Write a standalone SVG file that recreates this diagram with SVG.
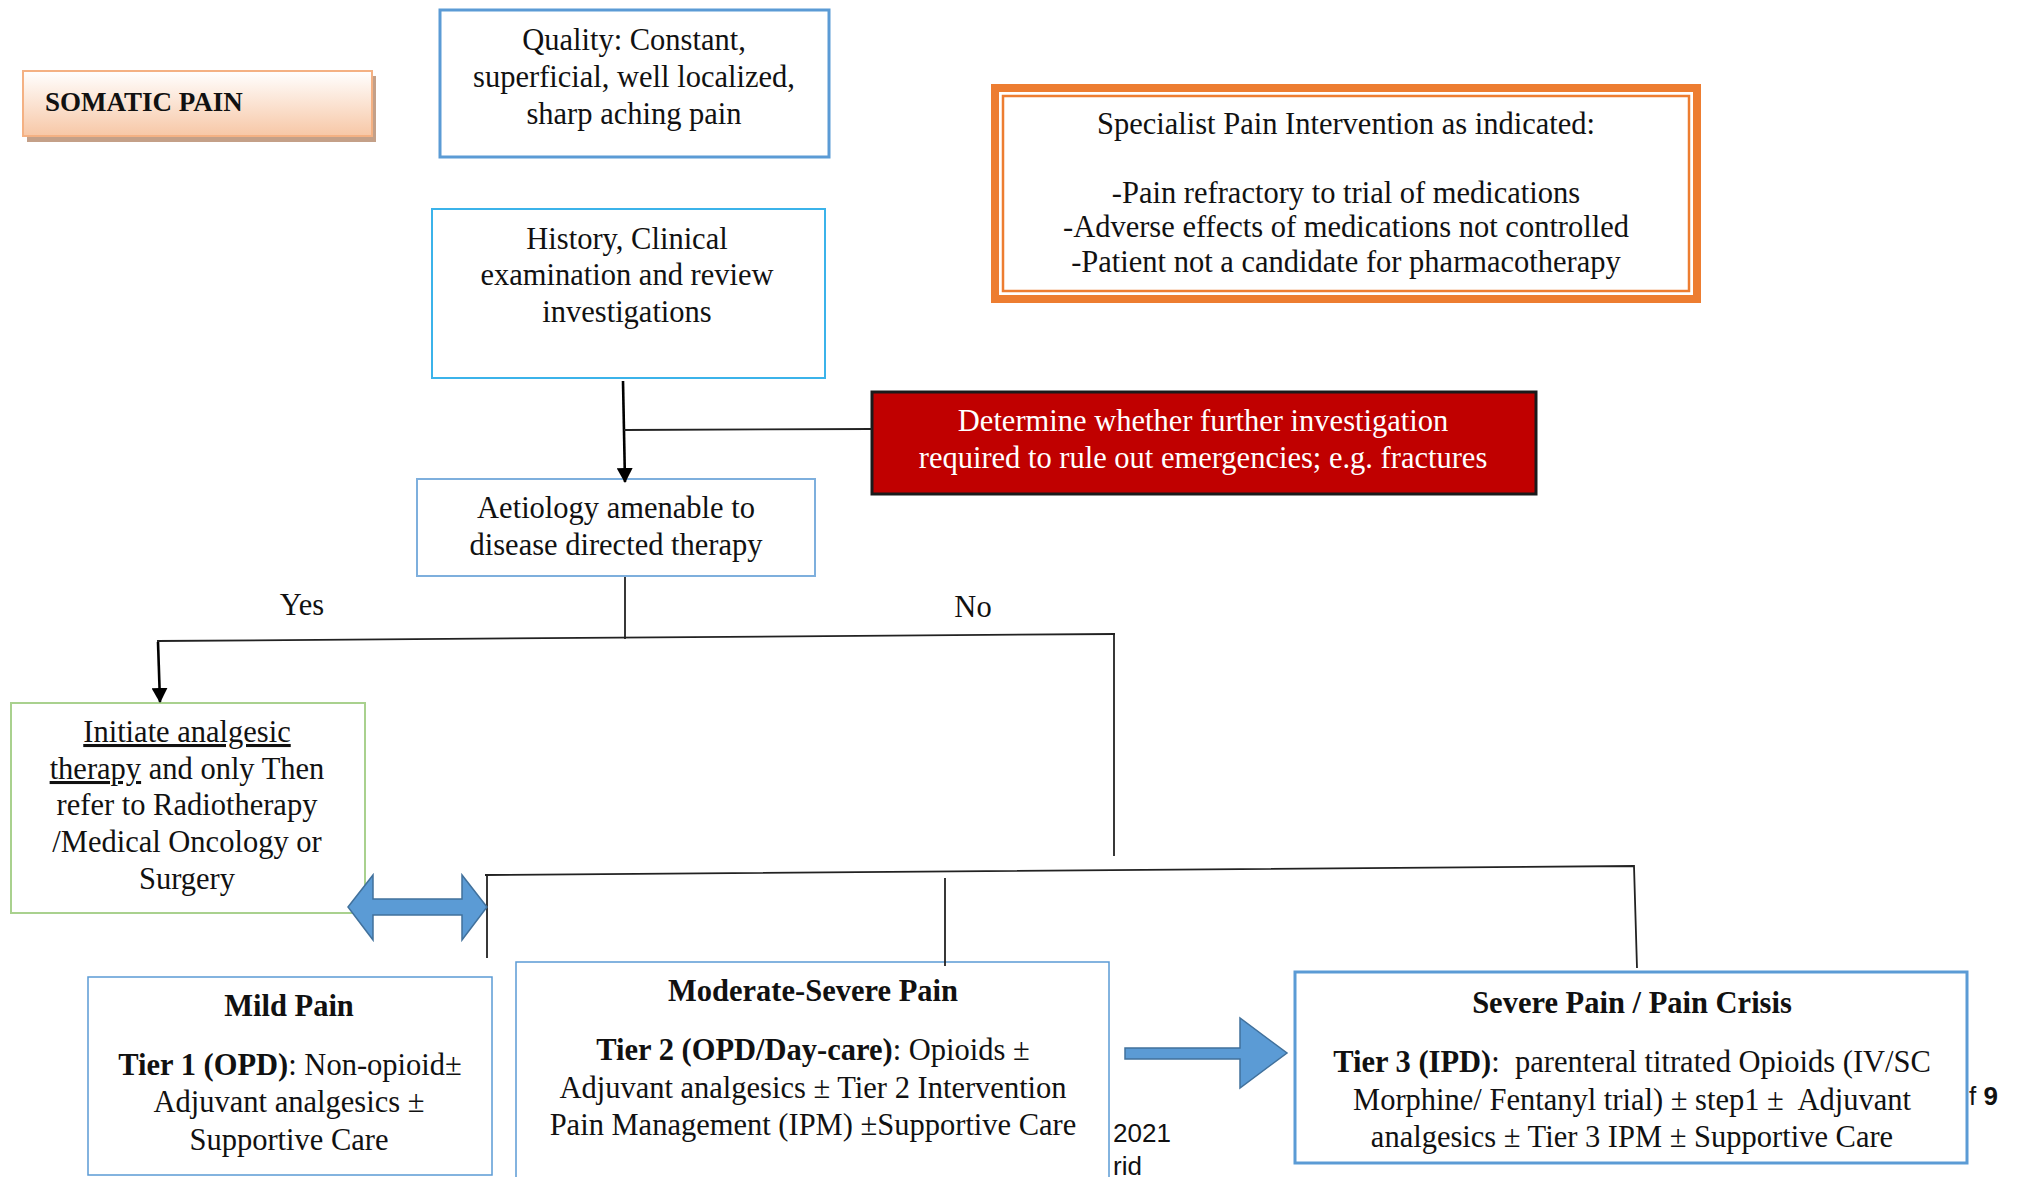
<svg xmlns="http://www.w3.org/2000/svg" width="2024" height="1177" viewBox="0 0 2024 1177">
<defs>
<linearGradient id="peach" x1="0" y1="0" x2="0" y2="1">
<stop offset="0" stop-color="#FFFFFF"/>
<stop offset="1" stop-color="#F7C7A6"/>
</linearGradient>
<marker id="ah" markerWidth="15" markerHeight="16" refX="14" refY="8" orient="auto" markerUnits="userSpaceOnUse" viewBox="0 0 15 16" preserveAspectRatio="none">
<path d="M0,0 L15,8 L0,16 z" fill="#000"/>
</marker>
<style>
text{font-family:"Liberation Serif","Times New Roman",serif;font-size:30.5px;fill:#111;}
.c{text-anchor:middle;}
.b{font-weight:bold;}
.w{fill:#fff;}
.u{text-decoration:underline;}
.sans{font-family:"Liberation Sans",Arial,sans-serif;font-size:26px;}
.ln{fill:none;stroke:#222;stroke-width:1.8;}
.ar{fill:none;stroke:#000;stroke-width:2.6;}
.bx{fill:#fff;stroke:#5B9BD5;}
.blk{fill:#5B9BD5;stroke:#41719C;stroke-width:1.5;}
</style>
</defs>
<rect width="2024" height="1177" fill="#fff"/>

<g id="somatic">
<rect x="27" y="76" width="349" height="66" fill="#C4A088"/>
<rect x="23" y="71" width="349" height="65" fill="url(#peach)" stroke="#F4B183" stroke-width="2"/>
<text x="45" y="111" class="b" style="font-size:27px">SOMATIC PAIN</text>
</g>

<g id="quality">
<rect class="bx" x="440" y="10" width="389" height="147" stroke-width="3"/>
<text class="c" x="634" y="50">Quality: Constant,</text>
<text class="c" x="634" y="87">superficial, well localized,</text>
<text class="c" x="634" y="124">sharp aching pain</text>
</g>

<g id="history">
<rect x="432" y="209" width="393" height="169" fill="#fff" stroke="#3BB3EA" stroke-width="2"/>
<text class="c" x="627" y="249">History, Clinical</text>
<text class="c" x="627" y="285">examination and review</text>
<text class="c" x="627" y="322">investigations</text>
</g>

<g id="specialist">
<rect x="995" y="88" width="702" height="211" fill="#fff" stroke="#ED7D31" stroke-width="8"/>
<rect x="1003" y="96" width="686" height="195" fill="none" stroke="#ED7D31" stroke-width="2.5"/>
<text class="c" x="1346" y="134">Specialist Pain Intervention as indicated:</text>
<text class="c" x="1346" y="203">-Pain refractory to trial of medications</text>
<text class="c" x="1346" y="237">-Adverse effects of medications not controlled</text>
<text class="c" x="1346" y="272">-Patient not a candidate for pharmacotherapy</text>
</g>

<g id="emergency">
<rect x="872" y="392" width="664" height="102" fill="#C00000" stroke="#1a1a1a" stroke-width="3"/>
<text class="c w" x="1203" y="431">Determine whether further investigation</text>
<text class="c w" x="1203" y="468">required to rule out emergencies; e.g. fractures</text>
</g>

<g id="aetiology">
<rect x="417" y="479" width="398" height="97" fill="#fff" stroke="#7EAFDD" stroke-width="2"/>
<text class="c" x="616" y="518">Aetiology amenable to</text>
<text class="c" x="616" y="555">disease directed therapy</text>
</g>

<g id="labels">
<text class="c" x="302" y="615">Yes</text>
<text class="c" x="973" y="617">No</text>
</g>

<g id="initiate">
<rect x="11" y="703" width="354" height="210" fill="#fff" stroke="#A9D18E" stroke-width="2"/>
<text class="c" x="187" y="742"><tspan class="u">Initiate analgesic</tspan></text>
<text class="c" x="187" y="779"><tspan class="u">therapy</tspan> and only Then</text>
<text class="c" x="187" y="815">refer to Radiotherapy</text>
<text class="c" x="187" y="852">/Medical Oncology or</text>
<text class="c" x="187" y="889">Surgery</text>
</g>

<g id="mild">
<rect class="bx" x="88" y="977" width="404" height="198" stroke-width="1.5"/>
<text class="c b" x="289" y="1016">Mild Pain</text>
<text class="c" x="290" y="1075"><tspan class="b">Tier 1 (OPD)</tspan>: Non-opioid±</text>
<text class="c" x="289" y="1112">Adjuvant analgesics ±</text>
<text class="c" x="289" y="1150">Supportive Care</text>
</g>

<g id="moderate">
<rect class="bx" x="516" y="962" width="593" height="218" stroke-width="1.5"/>
<text class="c b" x="813" y="1001">Moderate-Severe Pain</text>
<text class="c" x="813" y="1060"><tspan class="b">Tier 2 (OPD/Day-care)</tspan>: Opioids ±</text>
<text class="c" x="813" y="1098">Adjuvant analgesics ± Tier 2 Intervention</text>
<text class="c" x="813" y="1135">Pain Management (IPM) ±Supportive Care</text>
</g>

<g id="severe">
<rect class="bx" x="1295" y="972" width="672" height="191" stroke-width="3"/>
<text class="c b" x="1632" y="1013">Severe Pain / Pain Crisis</text>
<text class="c" x="1632" y="1072" xml:space="preserve"><tspan class="b">Tier 3 (IPD)</tspan>:  parenteral titrated Opioids (IV/SC</text>
<text class="c" x="1632" y="1110" xml:space="preserve">Morphine/ Fentanyl trial) ± step1 ±  Adjuvant</text>
<text class="c" x="1632" y="1147">analgesics ± Tier 3 IPM ± Supportive Care</text>
</g>

<g id="page-fragments">
<text class="sans" x="1113" y="1142">2021</text>
<text class="sans" x="1113" y="1175">rid</text>
<text class="sans" x="1969" y="1105">f <tspan style="font-weight:bold">9</tspan></text>
</g>

<g id="connectors">
<path class="ar" d="M623,381 L625,482" marker-end="url(#ah)"/>
<path class="ln" d="M624,430 L872,429"/>
<path class="ln" d="M625,577 L625,639"/>
<path class="ln" d="M157,641 L1115,634"/>
<path class="ar" d="M158,642 L160,702" marker-end="url(#ah)"/>
<path class="ln" d="M1114,634 L1114,856"/>
<path class="ln" d="M485,875 L1634,866 L1637,968"/>
<path class="ln" d="M487,875 L487,958"/>
<path class="ln" d="M945,878 L945,966"/>
<path id="double-arrow" class="blk" d="M348,907 L373,875 L373,899 L462,899 L462,875 L487,907 L462,940 L462,915 L373,915 L373,940 z"/>
<path id="right-arrow" class="blk" d="M1125,1048 L1240,1048 L1240,1018 L1287,1053 L1240,1088 L1240,1059 L1125,1059 z"/>
</g>
</svg>
